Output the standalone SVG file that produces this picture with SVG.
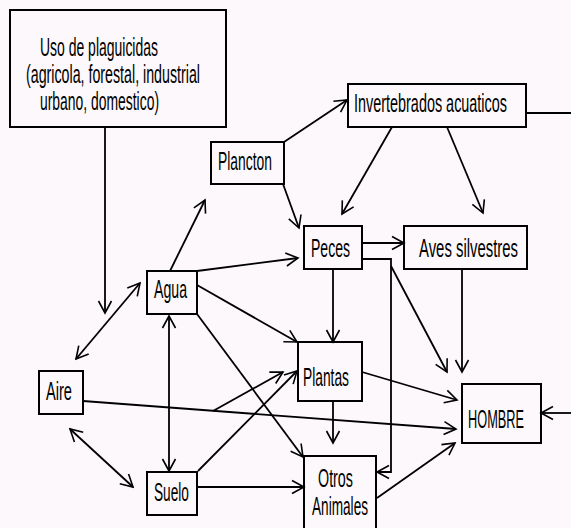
<svg xmlns="http://www.w3.org/2000/svg" width="571" height="528" viewBox="0 0 571 528">
<style>
.box{fill:none;stroke:#000;stroke-width:2}
.c{fill:none;stroke:#000;stroke-width:1.8}
.t{font-family:"Liberation Sans",Arial,sans-serif;font-size:25px;fill:#000}
</style>
<defs>
<marker id="a" markerUnits="userSpaceOnUse" markerWidth="16" markerHeight="16" viewBox="-14 -8 16 16" refX="0" refY="0" orient="auto-start-reverse">
<path d="M-12,-6.5 L0,0 L-12,6.5" fill="none" stroke="#000" stroke-width="1.6"/>
</marker>
</defs>
<rect width="571" height="528" fill="#fcf8fb"/>
<g id="connectors">
<path class="c" d="M105,127 L105,313" marker-end="url(#a)"/>
<path class="c" d="M76,359 L140,283" marker-start="url(#a)" marker-end="url(#a)"/>
<path class="c" d="M70,429 L133,487" marker-start="url(#a)" marker-end="url(#a)"/>
<path class="c" d="M169,316 L169,471" marker-start="url(#a)" marker-end="url(#a)"/>
<path class="c" d="M170,271 L205,200" marker-end="url(#a)"/>
<path class="c" d="M284,142 L347,100" marker-end="url(#a)"/>
<path class="c" d="M283,184 L299,228" marker-end="url(#a)"/>
<path class="c" d="M392,127 L342,214" marker-end="url(#a)"/>
<path class="c" d="M447,127 L483,213" marker-end="url(#a)"/>
<path class="c" d="M197,271 L298,258" marker-end="url(#a)"/>
<path class="c" d="M197,285 L297,342" marker-end="url(#a)"/>
<path class="c" d="M197,314 L303,457" marker-end="url(#a)"/>
<path class="c" d="M83,401 L456,429" marker-end="url(#a)"/>
<path class="c" d="M213,411 L283,372" marker-end="url(#a)"/>
<path class="c" d="M198,471 L297,371" marker-end="url(#a)"/>
<path class="c" d="M197,487 L304,487" marker-end="url(#a)"/>
<path class="c" d="M362,243 L404,243" marker-end="url(#a)"/>
<path class="c" d="M362,259 L391,259 L391,472 L377,472" marker-end="url(#a)"/>
<path class="c" d="M391,266 L447,372" marker-end="url(#a)"/>
<path class="c" d="M462,269 L462,372" marker-end="url(#a)"/>
<path class="c" d="M362,372 L457,400" marker-end="url(#a)"/>
<path class="c" d="M333,401 L333,443" marker-end="url(#a)"/>
<path class="c" d="M333,269 L333,342" marker-end="url(#a)"/>
<path class="c" d="M377,498 L455,443" marker-end="url(#a)"/>
<path class="c" d="M526,113 L571,113"/>
<path class="c" d="M571,413 L541,413" marker-end="url(#a)"/>
</g>
<g id="uso">
<rect class="box" x="10" y="10" width="216" height="117"/>
<text class="t" transform="translate(40,56) scale(0.58,1)" textLength="203.4" lengthAdjust="spacingAndGlyphs">Uso de plaguicidas</text>
<text class="t" transform="translate(26,83) scale(0.58,1)" textLength="300" lengthAdjust="spacingAndGlyphs">(agricola, forestal, industrial</text>
<text class="t" transform="translate(40,110) scale(0.58,1)" textLength="205.2" lengthAdjust="spacingAndGlyphs">urbano, domestico)</text>
</g>
<g id="invertebrados">
<rect class="box" x="348" y="84" width="178" height="43"/>
<text class="t" transform="translate(354,112) scale(0.58,1)" textLength="263.8" lengthAdjust="spacingAndGlyphs">Invertebrados acuaticos</text>
</g>
<g id="plancton">
<rect class="box" x="211" y="142" width="73" height="42"/>
<text class="t" transform="translate(218,170) scale(0.58,1)" textLength="93.1" lengthAdjust="spacingAndGlyphs">Plancton</text>
</g>
<g id="peces">
<rect class="box" x="304" y="226" width="58" height="43"/>
<text class="t" transform="translate(311,257) scale(0.58,1)" textLength="67.2" lengthAdjust="spacingAndGlyphs">Peces</text>
</g>
<g id="aves">
<rect class="box" x="404" y="226" width="123" height="43"/>
<text class="t" transform="translate(419,257) scale(0.58,1)" textLength="170.7" lengthAdjust="spacingAndGlyphs">Aves silvestres</text>
</g>
<g id="agua">
<rect class="box" x="147" y="271" width="50" height="43"/>
<text class="t" transform="translate(154,298) scale(0.58,1)" textLength="56.9" lengthAdjust="spacingAndGlyphs">Agua</text>
</g>
<g id="aire">
<rect class="box" x="39" y="371" width="44" height="43"/>
<text class="t" transform="translate(46,400) scale(0.58,1)" textLength="44.8" lengthAdjust="spacingAndGlyphs">Aire</text>
</g>
<g id="plantas">
<rect class="box" x="298" y="342" width="64" height="59"/>
<text class="t" transform="translate(303,386) scale(0.58,1)" textLength="79.3" lengthAdjust="spacingAndGlyphs">Plantas</text>
</g>
<g id="hombre">
<rect class="box" x="462" y="384" width="79" height="59"/>
<text class="t" transform="translate(468,428) scale(0.58,1)" textLength="96.6" lengthAdjust="spacingAndGlyphs">HOMBRE</text>
</g>
<g id="suelo">
<rect class="box" x="147" y="472" width="50" height="43"/>
<text class="t" transform="translate(154,501) scale(0.58,1)" textLength="60.3" lengthAdjust="spacingAndGlyphs">Suelo</text>
</g>
<g id="otros">
<rect class="box" x="304" y="456" width="72" height="80"/>
<text class="t" transform="translate(318,487) scale(0.58,1)" textLength="60.3" lengthAdjust="spacingAndGlyphs">Otros</text>
<text class="t" transform="translate(312,515) scale(0.58,1)" textLength="96.6" lengthAdjust="spacingAndGlyphs">Animales</text>
</g>
</svg>
